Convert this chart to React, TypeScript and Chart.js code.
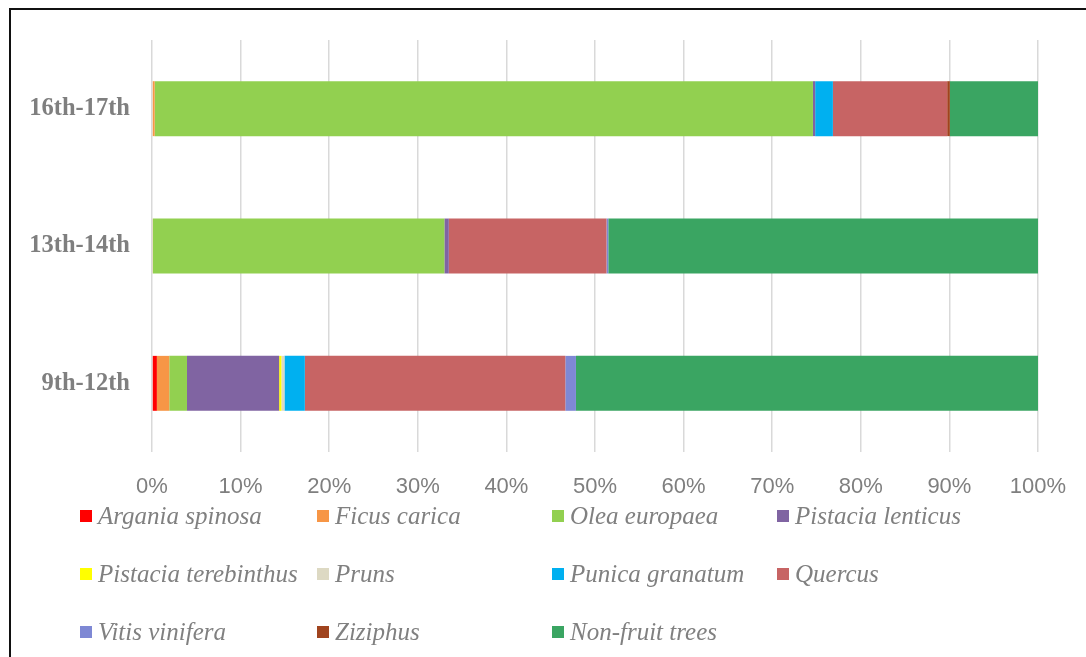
import React, { useEffect, useRef } from "react";
import { Chart, registerables } from "chart.js";

Chart.register(...registerables);

const categories = ["16th-17th", "13th-14th", "9th-12th"];
const seriesNames = [
  "Argania spinosa",
  "Ficus carica",
  "Olea europaea",
  "Pistacia lenticus",
  "Pistacia terebinthus",
  "Pruns",
  "Punica granatum",
  "Quercus",
  "Vitis vinifera",
  "Ziziphus",
  "Non-fruit trees",
];
const argania = [0, 0, 0.55];
const ficus = [0.3, 0.1, 1.4];
const olea = [74.3, 32.9, 2.0];
const pistaciaLenticus = [0.25, 0.5, 10.4];
const pistaciaTerebinthus = [0, 0, 0.25];
const pruns = [0, 0, 0.35];
const punica = [2.0, 0, 2.3];
const quercus = [12.9, 17.8, 29.4];
const vitis = [0, 0.2, 1.2];
const ziziphus = [0.3, 0, 0];
const nonFruit = [9.95, 48.5, 52.15];
const seriesValues = [
  argania, ficus, olea, pistaciaLenticus, pistaciaTerebinthus, pruns,
  punica, quercus, vitis, ziziphus, nonFruit,
];
const seriesColors = [
  "#FF0000", "#F79646", "#92D050", "#8064A2", "#FFFF00", "#DDD9C3",
  "#00B0F0", "#C76464", "#7E88D4", "#A0441E", "#3AA562",
];
const tickValues = [0, 10, 20, 30, 40, 50, 60, 70, 80, 90, 100];

const legendCols = [80, 317, 552, 777];
const legendRows = [516, 574, 632];

export default function App() {
  const ref = useRef<HTMLCanvasElement | null>(null);
  useEffect(() => {
    if (!ref.current) return;
    const chart = new Chart(ref.current, {
      type: "bar",
      data: {
        labels: categories,
        datasets: seriesNames.map((name, i) => ({
          label: name,
          data: seriesValues[i],
          backgroundColor: seriesColors[i],
          borderWidth: 0,
          barPercentage: 0.4,
          categoryPercentage: 1,
        })),
      },
      options: {
        indexAxis: "y",
        animation: false,
        responsive: false,
        maintainAspectRatio: false,
        layout: { padding: { top: 40, right: 48, left: 0, bottom: 0 } },
        plugins: { legend: { display: false }, tooltip: { enabled: false } },
        scales: {
          x: {
            stacked: true,
            min: 0,
            max: 100,
            afterFit: (s: any) => {
              s.height = 657 - 452;
              s.paddingLeft = 0;
              s.paddingRight = 0;
            },
            afterBuildTicks: (s: any) => { s.ticks = tickValues.map((v) => ({ value: v })); },
            grid: { color: "#D9D9D9", lineWidth: 1.5, drawTicks: false },
            border: { display: false },
            ticks: {
              padding: 22,
              color: "#7F7F7F",
              font: { family: "'Liberation Sans', Arial, sans-serif", size: 22 },
              callback: (v: any) => v + "%",
              maxRotation: 0,
            },
          },
          y: {
            stacked: true,
            afterFit: (s: any) => { s.width = 152; },
            grid: { display: false, drawTicks: false },
            border: { display: false },
            ticks: {
              padding: 22,
              color: "#7F7F7F",
              font: { family: "'Liberation Serif', 'Times New Roman', serif", size: 24.5, weight: "bold" },
            },
          },
        },
      },
    });
    return () => chart.destroy();
  }, []);

  return (
    <div style={{ position: "fixed", left: 0, top: 0, width: 1086, height: 657, background: "#fff", overflow: "hidden" }}>
      <div style={{ position: "absolute", left: 9, top: 8, width: 1100, height: 700, borderTop: "2.5px solid #111", borderLeft: "2.5px solid #111", boxSizing: "border-box" }} />
      <canvas ref={ref} width={1086} height={657} style={{ position: "absolute", left: 0, top: 0, width: 1086, height: 657 }} />
      {seriesNames.map((name, i) => {
        const col = i % 4;
        const row = Math.floor(i / 4);
        return (
          <div key={name} style={{ position: "absolute", left: legendCols[col], top: legendRows[row] - 16, height: 32, display: "flex", alignItems: "center", whiteSpace: "nowrap" }}>
            <span style={{ display: "inline-block", width: 12, height: 12, background: seriesColors[i], marginRight: 6 }} />
            <span style={{ fontFamily: "'Liberation Serif', 'Times New Roman', serif", fontStyle: "italic", fontSize: 25, color: "#808080" }}>{name}</span>
          </div>
        );
      })}
    </div>
  );
}
